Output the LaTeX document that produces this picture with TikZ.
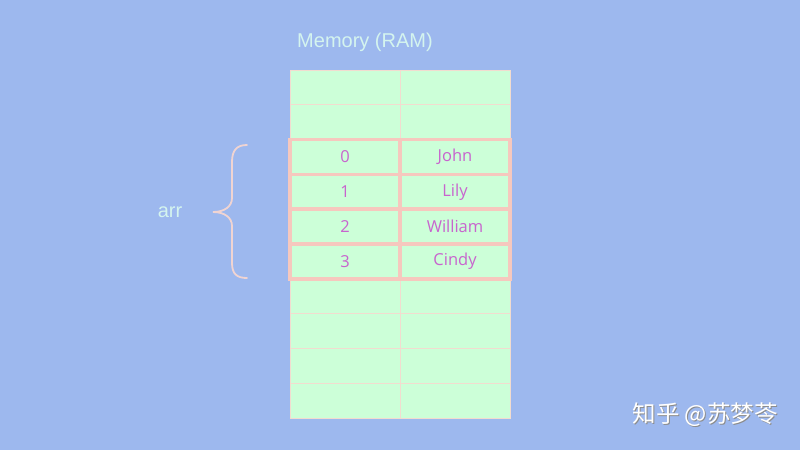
\documentclass[tikz,border=0pt]{standalone}
\usepackage{fontspec}
\setmainfont{Liberation Sans}
\newfontfamily\cellfont{Open Sans}
\newfontfamily\cjkfont{Noto Sans CJK SC}
\definecolor{bgblue}{HTML}{9DB8EE}
\definecolor{cellgreen}{HTML}{CCFFD8}
\definecolor{thinline}{HTML}{F2DCCF}
\definecolor{hiline}{HTML}{F6C8BE}
\definecolor{celltext}{HTML}{C864CE}
\definecolor{lighttext}{HTML}{D4F4EE}
\definecolor{bracecol}{HTML}{F0D4D2}
\tikzset{
  cellbox/.style={minimum width=110pt, minimum height=34.8pt, inner sep=0pt, outer sep=0pt,
    fill=cellgreen, draw=thinline, line width=0.8pt, anchor=north west},
  hibox/.style={cellbox, draw=hiline, line width=3.6pt,
    font=\cellfont\fontsize{16.5}{19}\selectfont, text=celltext},
  lighttxt/.style={text=lighttext, font=\fontsize{20}{23}\selectfont, inner sep=0pt},
}
\begin{document}
\begin{tikzpicture}[x=1pt,y=-1pt]
\fill[bgblue] (0,0) rectangle (800,450);
\useasboundingbox (0,0) rectangle (800,450);
\node[lighttxt] (title) at (365,42) {Memory (RAM)};
% plain cells
\foreach \i in {0,1,6,7,8,9} {
  \node[cellbox] (c\i l) at (290,{70+34.8*\i}) {};
  \node[cellbox] (c\i r) at (400,{70+34.8*\i}) {};
}
% highlighted cells
\foreach \i/\n [count=\k from 2] in {0/John,1/Lily,2/William,3/Cindy} {
  \node[hibox] (c\k l) at (290,{70+34.8*\k}) {\i};
  \node[hibox] (c\k r) at (400,{70+34.8*\k}) {\raisebox{1.5pt}{\n}};
}
% brace
\draw[bracecol, line width=1.8pt, line cap=round]
  (247,145) .. controls (237,145) and (232,150) .. (232,162)
  -- (232,198) .. controls (232,206) and (225,212) .. (213,212)
  .. controls (225,212) and (232,218) .. (232,226)
  -- (232,263) .. controls (232,274) and (237,278) .. (247,278);
\node[lighttxt] (arr) at (170,212) {arr};
% watermark
\node[text=black!45, font=\cjkfont\fontsize{23.5}{26}\selectfont, inner sep=0pt] at (706,416) {知乎 @苏梦苓};
\node[text=white, font=\cjkfont\fontsize{23.5}{26}\selectfont, inner sep=0pt] (wm) at (705,415) {知乎 @苏梦苓};
\end{tikzpicture}
\end{document}
